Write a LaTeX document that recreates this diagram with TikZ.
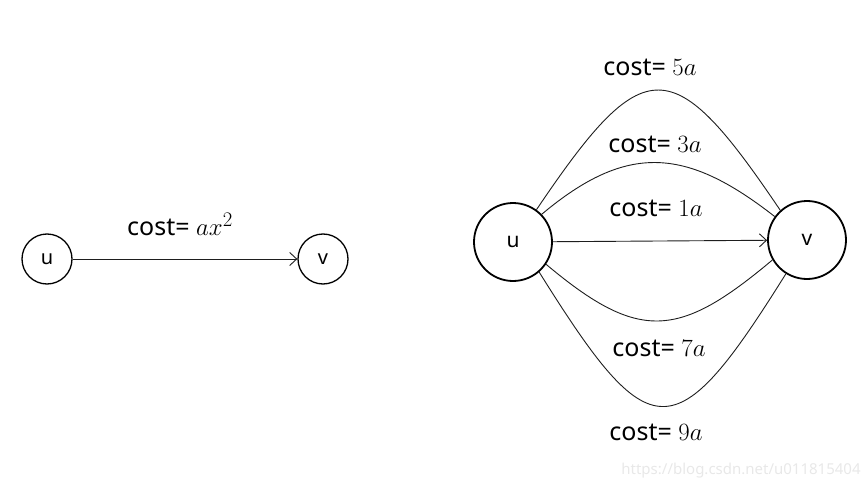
\documentclass[tikz,border=0pt]{standalone}
\usepackage{fontspec}
\setmainfont{Noto Sans}
\usepackage{tikz}
\usetikzlibrary{arrows.meta, positioning, calc}
\definecolor{edgecolor}{RGB}{30,30,30}
\definecolor{markgray}{RGB}{232,232,232}
\tikzset{
    vertex/.style={circle, draw=black, line width=1.3pt, minimum size=50pt,
        inner sep=0pt, font=\fontsize{20}{24}\selectfont},
    bigvertex/.style={circle, draw=black, line width=1.8pt, minimum size=78pt,
        inner sep=0pt, font=\fontsize{21}{25}\selectfont},
    arrow/.style={-{Straight Barb[length=7pt, width=13pt]}, line width=0.9pt, draw=edgecolor},
    curve/.style={line width=0.9pt, draw=edgecolor},
    costlabel/.style={font=\fontsize{25}{29}\selectfont, inner sep=0pt}
}
\newcommand{\costval}[1]{{\fontsize{29}{32}\selectfont$#1$}}

\begin{document}
\begin{tikzpicture}[x=1pt, y=1pt]
    \useasboundingbox (0,0) rectangle (868,491);

    % single edge
    \node[vertex] (lu) at (47,232) {u};
    \node[vertex] (lv) at (323,232) {v};
    \draw[arrow] (lu) -- (lv);
    \node[costlabel] (lcost) at (180,267) {cost= \costval{ax^2}};

    % parallel edges
    \node[bigvertex] (ru) at (513,249) {u};
    \node[bigvertex] (rv) at (807,251) {v};

    \draw[arrow] (ru) -- (rv);
    \draw[curve] (ru.54) .. controls +(56:193) and +(124:193) .. (rv.132);
    \draw[curve] (ru.44) .. controls +(40:112) and +(142:112) .. (rv.144);
    \draw[curve] (ru.-34) .. controls +(-40:122) and +(-140:122) .. (rv.-150);
    \draw[curve] (ru.-49) .. controls +(-58:210) and +(-122:210) .. (rv.-122);

    \node[costlabel] (c5) at (650,424) {cost= \costval{5a}};
    \node[costlabel] (c3) at (655,347) {cost= \costval{3a}};
    \node[costlabel] (c1) at (656,283) {cost= \costval{1a}};
    \node[costlabel] (c7) at (659,143) {cost= \costval{7a}};
    \node[costlabel] (c9) at (656,59) {cost= \costval{9a}};

    \node[font=\fontsize{15}{17}\selectfont, text=markgray, inner sep=0pt] (mark) at (741,20) {https://blog.csdn.net/u011815404};

\end{tikzpicture}
\end{document}
